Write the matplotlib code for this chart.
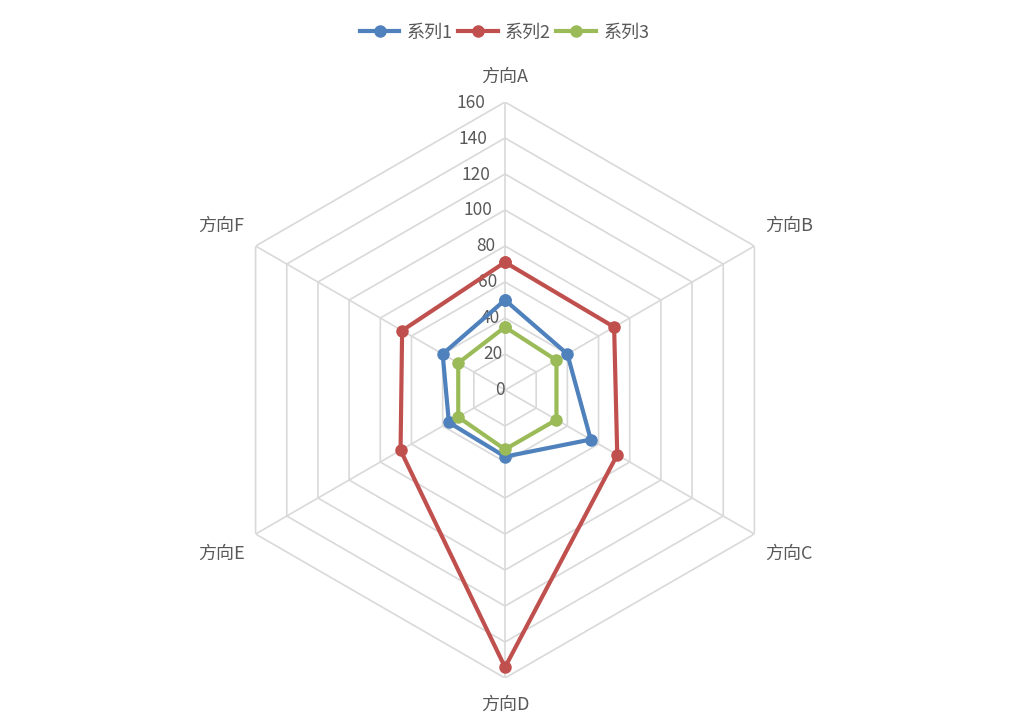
import numpy as np
import matplotlib
matplotlib.use("Agg")
import matplotlib.pyplot as plt

plt.rcParams['font.family'] = ['Noto Sans CJK SC', 'DejaVu Sans']

categories = ['方向A', '方向B', '方向C', '方向D', '方向E', '方向F']
series_names = ['系列1', '系列2', '系列3']
s1 = [50, 40, 55, 37, 36, 40]
s2 = [71, 70, 72, 154, 67, 66]
s3 = [35, 33, 33, 33, 30, 30]
ticks = [0, 20, 40, 60, 80, 100, 120, 140, 160]
colors = ['#4F81BD', '#C0504D', '#9BBB59']

fig = plt.figure(figsize=(10.09, 7.2), dpi=100)
ax = fig.add_axes([0.215, 0.0583, 0.571, 0.8], projection='polar')
ax.set_theta_zero_location('N')
ax.set_theta_direction(-1)
ax.set_ylim(0, 160)
ax.grid(False)
ax.spines['polar'].set_visible(False)
ax.set_xticks([])
ax.set_yticks([])

n = len(categories)
theta = np.linspace(0, 2 * np.pi, n, endpoint=False)
tc = np.append(theta, theta[0])

for t in ticks[1:]:
    ax.plot(tc, [t] * (n + 1), color='#D9D9D9', lw=1.2, zorder=1)
for th in theta:
    ax.plot([th, th], [0, 160], color='#D9D9D9', lw=1.2, zorder=1)

for t in ticks:
    if t:
        ax.text(np.deg2rad(-4), t, str(t), ha='right', va='center',
                fontsize=12.5, color='#595959', zorder=2)
    else:
        ax.text(0, 0, '0', ha='right', va='center', fontsize=12.5, color='#595959', zorder=2)

for name, vals, c in zip(series_names, [s1, s2, s3], colors):
    v = vals + [vals[0]]
    ax.plot(tc, v, color=c, lw=3, marker='o', ms=8, label=name, zorder=3)

rs = [174, 182, 182, 175, 182, 182]
for th, lab, r in zip(theta, categories, rs):
    ax.text(th, r, lab, ha='center', va='center', fontsize=13, color='#595959')

fig.legend(loc='upper center', bbox_to_anchor=(0.5, 0.99), ncol=3, frameon=False,
           fontsize=13, handlelength=2.2, columnspacing=0.3, handletextpad=0.4,
           labelcolor='#595959')
fig.savefig('out.png', dpi=100)
